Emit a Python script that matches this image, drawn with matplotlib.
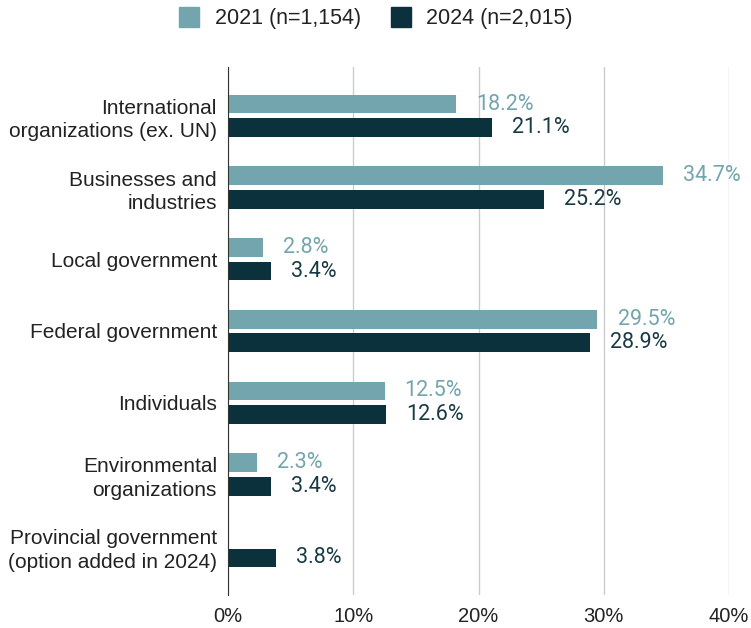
""" funding sources chart """
import matplotlib.pyplot as plt
from matplotlib.lines import Line2D
import numpy as np

categories = [
    "International\norganizations (ex. UN)",
    "Businesses and\nindustries",
    "Local government",
    "Federal government",
    "Individuals",
    "Environmental\norganizations",
    "Provincial government\n(option added in 2024)",
]
values_2021 = [18.2, 34.7, 2.8, 29.5, 12.5, 2.3, np.nan]
values_2024 = [21.1, 25.2, 3.4, 28.9, 12.6, 3.4, 3.8]
series_names = ["2021 (n=1,154)", "2024 (n=2,015)"]
x_ticks = [0, 10, 20, 30, 40]

light = "#72a5ae"
dark = "#0b323c"
dark_text = "#183a44"

plt.rcParams['font.family'] = ['Liberation Sans', 'DejaVu Sans']

fig = plt.figure(figsize=(7.51, 6.28), dpi=100)
ax = fig.add_axes([228 / 751, 33 / 628, 501 / 751, 528 / 628])

y = np.arange(len(categories))
off = 0.164
h = 0.262

for vals, col, tcol, dy in [(values_2021, light, light, -off),
                            (values_2024, dark, dark_text, off)]:
    for yi, v in zip(y, vals):
        if np.isnan(v):
            continue
        ax.barh(yi + dy, v, height=h, color=col, zorder=3)
        ax.text(v + 1.6, yi + dy, f"{v:.1f}%", color=tcol, fontsize=15.5,
                family=['Roboto', 'DejaVu Sans'], va='center', ha='left', zorder=4)

ax.set_ylim(6.68, -0.68)
ax.set_xlim(0, 40)
ax.set_yticks(y)
ax.set_yticklabels(categories, fontsize=15, color="#222222", linespacing=1.3)
ax.set_xticks(x_ticks)
ax.set_xticklabels([f"{t}%" for t in x_ticks], fontsize=14.5, color="#222222")
ax.tick_params(length=0, pad=8)
ax.tick_params(axis='x', pad=9)
ax.grid(axis='x', color="#cccccc", linewidth=1, zorder=0)
for s in ['top', 'right', 'bottom']:
    ax.spines[s].set_visible(False)
ax.spines['left'].set_color("#333333")
ax.spines['left'].set_zorder(5)

handles = [Line2D([], [], marker='s', linestyle='', markersize=15, color=c)
           for c in (light, dark)]
fig.legend(handles, series_names, loc='upper center', bbox_to_anchor=(0.5, 1.018),
           ncol=2, frameon=False, fontsize=15.5, handlelength=1.0, handletextpad=0.7,
           columnspacing=1.35, labelcolor="#222222")

fig.savefig("out.png", dpi=100)
